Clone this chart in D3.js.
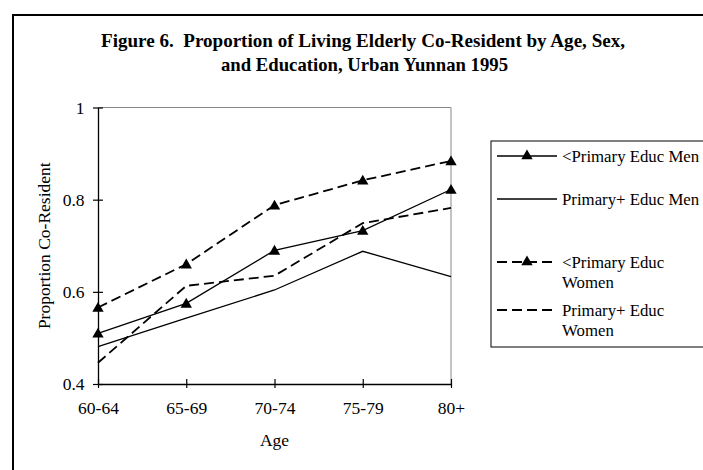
<!DOCTYPE html>
<html>
<head>
<meta charset="utf-8">
<script src="https://cdn.jsdelivr.net/npm/d3@7"></script>
<style>
  html, body { margin: 0; padding: 0; background: #fff; }
  svg { display: block; font-family: "Liberation Serif", "Times New Roman", serif; }
  .title { white-space: pre; }
</style>
</head>
<body>
<div id="chart"></div>
<script>
const WIDTH = 703;
const HEIGHT = 470;

const ages = ["60-64", "65-69", "70-74", "75-79", "80+"];
const lessPrimaryMen = [0.51, 0.575, 0.69, 0.733, 0.822];
const primaryPlusMen = [0.481, 0.543, 0.604, 0.688, 0.633];
const lessPrimaryWomen = [0.566, 0.66, 0.788, 0.842, 0.884];
const primaryPlusWomen = [0.446, 0.613, 0.635, 0.749, 0.782];
const yTicks = [0.4, 0.6, 0.8, 1];

const titleLines = [
  "Figure 6.  Proportion of Living Elderly Co-Resident by Age, Sex,",
  "and Education, Urban Yunnan 1995",
];

const series = [
  { name: ["<Primary Educ Men"], values: lessPrimaryMen, dashed: false, marker: true },
  { name: ["Primary+ Educ Men"], values: primaryPlusMen, dashed: false, marker: false },
  { name: ["<Primary Educ", "Women"], values: lessPrimaryWomen, dashed: true, marker: true },
  { name: ["Primary+ Educ", "Women"], values: primaryPlusWomen, dashed: true, marker: false },
];

// layout
const plot = { left: 98, right: 451, top: 107.5, bottom: 384 };
const legendBox = { x: 491, y: 141, w: 240, h: 206 };
const legendRowY = [156, 199, 262, 310];
const DASH = "10,5";
const FONT = 17.5;
const LEGEND_FONT = 16.8;

const svg = d3.select("#chart")
  .append("svg")
  .attr("width", WIDTH)
  .attr("height", HEIGHT);

// outer frame
svg.append("rect")
  .attr("x", 13)
  .attr("y", 15)
  .attr("width", 720)
  .attr("height", 480)
  .attr("fill", "none")
  .attr("stroke", "#000")
  .attr("stroke-width", 2);

// title
const titleBox = [
  { x1: 101, x2: 625, y: 46.5 },
  { x1: 221, x2: 508, y: 70.5 },
];
svg.append("g")
  .selectAll("text")
  .data(titleLines)
  .join("text")
  .attr("class", "title")
  .attr("x", (d, i) => titleBox[i].x1)
  .attr("y", (d, i) => titleBox[i].y)
  .attr("textLength", (d, i) => titleBox[i].x2 - titleBox[i].x1)
  .attr("lengthAdjust", "spacingAndGlyphs")
  .attr("font-size", 19.5)
  .attr("font-weight", "bold")
  .attr("fill", "#000")
  .text((d) => d);

const x = d3.scalePoint().domain(ages).range([plot.left, plot.right]).padding(0);
const y = d3.scaleLinear().domain([0.4, 1]).range([plot.bottom, plot.top]);

// plot frame (top/right in grey)
svg.append("path")
  .attr("d", `M${plot.left},${plot.top}H${plot.right}V${plot.bottom}`)
  .attr("fill", "none")
  .attr("stroke", "#888")
  .attr("stroke-width", 1);

// y axis
const yAxis = svg.append("g")
  .attr("transform", `translate(${plot.left},0)`)
  .call(d3.axisLeft(y).tickValues(yTicks).tickFormat(d3.format("")).tickSizeInner(5).tickSizeOuter(0).tickPadding(8));
yAxis.select(".domain").attr("stroke", "#000").attr("stroke-width", 1.3);
yAxis.selectAll(".tick line").attr("x2", 5).attr("x1", -5).attr("stroke-width", 1.2);
yAxis.selectAll(".tick text")
  .attr("x", -13.5)
  .attr("font-size", FONT)
  .attr("font-family", "Liberation Serif, Times New Roman, serif")
  .attr("fill", "#000");

// x axis
const xAxis = svg.append("g")
  .attr("transform", `translate(0,${plot.bottom})`)
  .call(d3.axisBottom(x).tickSizeInner(4).tickSizeOuter(0).tickPadding(12));
xAxis.select(".domain").attr("stroke", "#000").attr("stroke-width", 1.3);
xAxis.selectAll(".tick line").attr("y1", -5).attr("y2", 4).attr("stroke-width", 1.2);
xAxis.selectAll(".tick text")
  .attr("y", 30)
  .attr("dy", 0)
  .attr("font-size", FONT)
  .attr("font-family", "Liberation Serif, Times New Roman, serif")
  .attr("fill", "#000");

// axis titles
svg.append("text")
  .attr("x", (plot.left + plot.right) / 2)
  .attr("y", 446)
  .attr("text-anchor", "middle")
  .attr("font-size", FONT)
  .text("Age");

svg.append("text")
  .attr("transform", `translate(50,${(plot.top + plot.bottom) / 2}) rotate(-90)`)
  .attr("text-anchor", "middle")
  .attr("font-size", FONT)
  .text("Proportion Co-Resident");

// lines
const line = d3.line()
  .x((d, i) => x(ages[i]))
  .y((d) => y(d));

const triangle = d3.symbol().type(d3.symbolTriangle).size(56);

const seriesG = svg.append("g")
  .selectAll("g")
  .data(series)
  .join("g");

seriesG.append("path")
  .attr("d", (s) => line(s.values))
  .attr("fill", "none")
  .attr("stroke", "#000")
  .attr("stroke-width", (s) => (s.dashed ? 1.8 : 1.3))
  .attr("stroke-dasharray", (s) => (s.dashed ? DASH : null));

seriesG.filter((s) => s.marker)
  .selectAll("path.marker")
  .data((s) => s.values)
  .join("path")
  .attr("class", "marker")
  .attr("d", triangle)
  .attr("transform", (d, i) => `translate(${x(ages[i])},${y(d) + 1})`)
  .attr("fill", "#000");

// legend
const legend = svg.append("g");
legend.append("rect")
  .attr("x", legendBox.x)
  .attr("y", legendBox.y)
  .attr("width", legendBox.w)
  .attr("height", legendBox.h)
  .attr("fill", "#fff")
  .attr("stroke", "#000")
  .attr("stroke-width", 1);

const items = legend.selectAll("g.item")
  .data(series)
  .join("g")
  .attr("class", "item")
  .attr("transform", (s, i) => `translate(0,${legendRowY[i]})`);

items.append("line")
  .attr("x1", 497)
  .attr("x2", 557)
  .attr("stroke", "#000")
  .attr("stroke-width", (s) => (s.dashed ? 1.8 : 1.3))
  .attr("stroke-dasharray", (s) => (s.dashed ? DASH : null));

items.filter((s) => s.marker)
  .append("path")
  .attr("d", triangle)
  .attr("transform", "translate(527,0)")
  .attr("fill", "#000");

items.append("text")
  .attr("x", 562)
  .attr("font-size", LEGEND_FONT)
  .selectAll("tspan")
  .data((s) => s.name)
  .join("tspan")
  .attr("x", 562)
  .attr("y", (d, i) => 5.5 + i * 20.5)
  .text((d) => d);
</script>
</body>
</html>
